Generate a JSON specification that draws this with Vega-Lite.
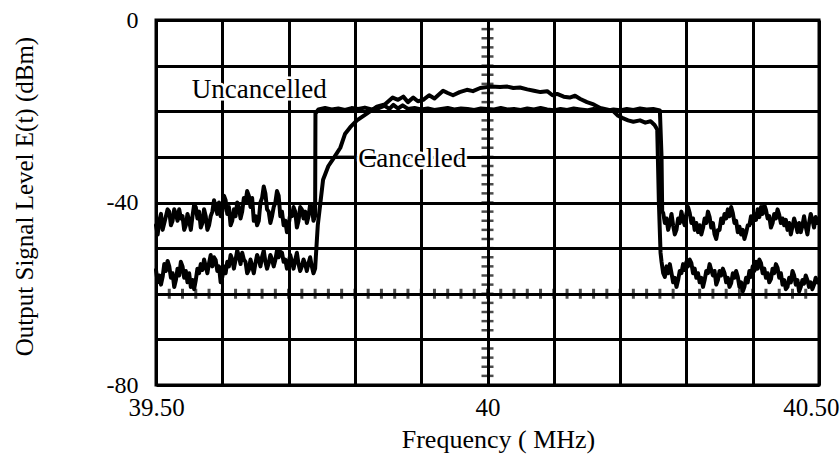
{
  "$schema": "https://vega.github.io/schema/vega-lite/v6.json",
  "width": 663,
  "height": 365,
  "autosize": {"type": "none"},
  "padding": {"left": 156, "top": 20, "right": 21, "bottom": 84},
  "background": "white",
  "config": {
    "font": "Liberation Serif",
    "view": {"stroke": "black", "strokeWidth": 3},
    "axis": {
      "domain": false,
      "ticks": false,
      "grid": true,
      "gridColor": "black",
      "gridOpacity": 1,
      "gridWidth": 3,
      "labelFont": "Liberation Serif",
      "labelColor": "black",
      "titleFont": "Liberation Serif",
      "titleColor": "black",
      "titleFontWeight": "normal"
    }
  },
  "datasets": {
    "traces": [
      {"series": "Uncancelled", "f": 39.5000, "dB": -45},
      {"series": "Uncancelled", "f": 39.5025, "dB": -47},
      {"series": "Uncancelled", "f": 39.5050, "dB": -44},
      {"series": "Uncancelled", "f": 39.5075, "dB": -42.5},
      {"series": "Uncancelled", "f": 39.5100, "dB": -46},
      {"series": "Uncancelled", "f": 39.5125, "dB": -44.5},
      {"series": "Uncancelled", "f": 39.5150, "dB": -43},
      {"series": "Uncancelled", "f": 39.5175, "dB": -41.5},
      {"series": "Uncancelled", "f": 39.5200, "dB": -42},
      {"series": "Uncancelled", "f": 39.5225, "dB": -45},
      {"series": "Uncancelled", "f": 39.5250, "dB": -44},
      {"series": "Uncancelled", "f": 39.5275, "dB": -41.5},
      {"series": "Uncancelled", "f": 39.5300, "dB": -42.5},
      {"series": "Uncancelled", "f": 39.5325, "dB": -44},
      {"series": "Uncancelled", "f": 39.5350, "dB": -41.5},
      {"series": "Uncancelled", "f": 39.5375, "dB": -43.5},
      {"series": "Uncancelled", "f": 39.5400, "dB": -43},
      {"series": "Uncancelled", "f": 39.5425, "dB": -46},
      {"series": "Uncancelled", "f": 39.5450, "dB": -45},
      {"series": "Uncancelled", "f": 39.5475, "dB": -42.5},
      {"series": "Uncancelled", "f": 39.5500, "dB": -44},
      {"series": "Uncancelled", "f": 39.5525, "dB": -46},
      {"series": "Uncancelled", "f": 39.5550, "dB": -43},
      {"series": "Uncancelled", "f": 39.5575, "dB": -40.5},
      {"series": "Uncancelled", "f": 39.5600, "dB": -41},
      {"series": "Uncancelled", "f": 39.5625, "dB": -43.5},
      {"series": "Uncancelled", "f": 39.5650, "dB": -42},
      {"series": "Uncancelled", "f": 39.5675, "dB": -45.5},
      {"series": "Uncancelled", "f": 39.5700, "dB": -44.5},
      {"series": "Uncancelled", "f": 39.5725, "dB": -41.5},
      {"series": "Uncancelled", "f": 39.5750, "dB": -43},
      {"series": "Uncancelled", "f": 39.5775, "dB": -46},
      {"series": "Uncancelled", "f": 39.5800, "dB": -45},
      {"series": "Uncancelled", "f": 39.5825, "dB": -43},
      {"series": "Uncancelled", "f": 39.5850, "dB": -42},
      {"series": "Uncancelled", "f": 39.5875, "dB": -39.5},
      {"series": "Uncancelled", "f": 39.5900, "dB": -41},
      {"series": "Uncancelled", "f": 39.5925, "dB": -42.5},
      {"series": "Uncancelled", "f": 39.5950, "dB": -40},
      {"series": "Uncancelled", "f": 39.5975, "dB": -43},
      {"series": "Uncancelled", "f": 39.6000, "dB": -42},
      {"series": "Uncancelled", "f": 39.6025, "dB": -38.5},
      {"series": "Uncancelled", "f": 39.6050, "dB": -39.5},
      {"series": "Uncancelled", "f": 39.6075, "dB": -42.5},
      {"series": "Uncancelled", "f": 39.6100, "dB": -41},
      {"series": "Uncancelled", "f": 39.6125, "dB": -45},
      {"series": "Uncancelled", "f": 39.6150, "dB": -44},
      {"series": "Uncancelled", "f": 39.6175, "dB": -41.5},
      {"series": "Uncancelled", "f": 39.6200, "dB": -43},
      {"series": "Uncancelled", "f": 39.6225, "dB": -40},
      {"series": "Uncancelled", "f": 39.6250, "dB": -41},
      {"series": "Uncancelled", "f": 39.6275, "dB": -43.5},
      {"series": "Uncancelled", "f": 39.6300, "dB": -42},
      {"series": "Uncancelled", "f": 39.6325, "dB": -39},
      {"series": "Uncancelled", "f": 39.6350, "dB": -40},
      {"series": "Uncancelled", "f": 39.6375, "dB": -37.5},
      {"series": "Uncancelled", "f": 39.6400, "dB": -38.5},
      {"series": "Uncancelled", "f": 39.6425, "dB": -41},
      {"series": "Uncancelled", "f": 39.6450, "dB": -39},
      {"series": "Uncancelled", "f": 39.6475, "dB": -44},
      {"series": "Uncancelled", "f": 39.6500, "dB": -43},
      {"series": "Uncancelled", "f": 39.6525, "dB": -45},
      {"series": "Uncancelled", "f": 39.6550, "dB": -44},
      {"series": "Uncancelled", "f": 39.6575, "dB": -40},
      {"series": "Uncancelled", "f": 39.6600, "dB": -39},
      {"series": "Uncancelled", "f": 39.6625, "dB": -36.5},
      {"series": "Uncancelled", "f": 39.6650, "dB": -38},
      {"series": "Uncancelled", "f": 39.6675, "dB": -41.5},
      {"series": "Uncancelled", "f": 39.6700, "dB": -42},
      {"series": "Uncancelled", "f": 39.6725, "dB": -44.5},
      {"series": "Uncancelled", "f": 39.6750, "dB": -43},
      {"series": "Uncancelled", "f": 39.6775, "dB": -41},
      {"series": "Uncancelled", "f": 39.6800, "dB": -40},
      {"series": "Uncancelled", "f": 39.6825, "dB": -37.5},
      {"series": "Uncancelled", "f": 39.6850, "dB": -38.5},
      {"series": "Uncancelled", "f": 39.6875, "dB": -43},
      {"series": "Uncancelled", "f": 39.6900, "dB": -42},
      {"series": "Uncancelled", "f": 39.6925, "dB": -45},
      {"series": "Uncancelled", "f": 39.6950, "dB": -44},
      {"series": "Uncancelled", "f": 39.6975, "dB": -46.5},
      {"series": "Uncancelled", "f": 39.7000, "dB": -45},
      {"series": "Uncancelled", "f": 39.7025, "dB": -42.5},
      {"series": "Uncancelled", "f": 39.7050, "dB": -43},
      {"series": "Uncancelled", "f": 39.7075, "dB": -41},
      {"series": "Uncancelled", "f": 39.7100, "dB": -42},
      {"series": "Uncancelled", "f": 39.7125, "dB": -45.5},
      {"series": "Uncancelled", "f": 39.7150, "dB": -44},
      {"series": "Uncancelled", "f": 39.7175, "dB": -41},
      {"series": "Uncancelled", "f": 39.7200, "dB": -41.5},
      {"series": "Uncancelled", "f": 39.7225, "dB": -43.5},
      {"series": "Uncancelled", "f": 39.7250, "dB": -42},
      {"series": "Uncancelled", "f": 39.7275, "dB": -44.5},
      {"series": "Uncancelled", "f": 39.7300, "dB": -43},
      {"series": "Uncancelled", "f": 39.7325, "dB": -40.5},
      {"series": "Uncancelled", "f": 39.7350, "dB": -41},
      {"series": "Uncancelled", "f": 39.7375, "dB": -44},
      {"series": "Uncancelled", "f": 39.7400, "dB": -43},
      {"series": "Uncancelled", "f": 39.7405, "dB": -20.5},
      {"series": "Uncancelled", "f": 39.745, "dB": -19.6},
      {"series": "Uncancelled", "f": 39.755, "dB": -19.3},
      {"series": "Uncancelled", "f": 39.765, "dB": -19.6},
      {"series": "Uncancelled", "f": 39.775, "dB": -19.4},
      {"series": "Uncancelled", "f": 39.785, "dB": -19.7},
      {"series": "Uncancelled", "f": 39.795, "dB": -19.3},
      {"series": "Uncancelled", "f": 39.805, "dB": -19.5},
      {"series": "Uncancelled", "f": 39.815, "dB": -19.2},
      {"series": "Uncancelled", "f": 39.825, "dB": -19.6},
      {"series": "Uncancelled", "f": 39.835, "dB": -19.4},
      {"series": "Uncancelled", "f": 39.845, "dB": -18.8},
      {"series": "Uncancelled", "f": 39.852, "dB": -19.5},
      {"series": "Uncancelled", "f": 39.858, "dB": -18.6},
      {"series": "Uncancelled", "f": 39.865, "dB": -19.4},
      {"series": "Uncancelled", "f": 39.872, "dB": -18.7},
      {"series": "Uncancelled", "f": 39.880, "dB": -19.5},
      {"series": "Uncancelled", "f": 39.890, "dB": -19.3},
      {"series": "Uncancelled", "f": 39.900, "dB": -19.6},
      {"series": "Uncancelled", "f": 39.910, "dB": -19.4},
      {"series": "Uncancelled", "f": 39.920, "dB": -19.7},
      {"series": "Uncancelled", "f": 39.930, "dB": -19.5},
      {"series": "Uncancelled", "f": 39.940, "dB": -19.3},
      {"series": "Uncancelled", "f": 39.950, "dB": -19.6},
      {"series": "Uncancelled", "f": 39.960, "dB": -19.4},
      {"series": "Uncancelled", "f": 39.970, "dB": -19.5},
      {"series": "Uncancelled", "f": 39.980, "dB": -19.7},
      {"series": "Uncancelled", "f": 39.990, "dB": -19.4},
      {"series": "Uncancelled", "f": 40.000, "dB": -19.5},
      {"series": "Uncancelled", "f": 40.010, "dB": -19.6},
      {"series": "Uncancelled", "f": 40.020, "dB": -19.3},
      {"series": "Uncancelled", "f": 40.030, "dB": -19.6},
      {"series": "Uncancelled", "f": 40.040, "dB": -19.5},
      {"series": "Uncancelled", "f": 40.050, "dB": -19.7},
      {"series": "Uncancelled", "f": 40.060, "dB": -19.4},
      {"series": "Uncancelled", "f": 40.070, "dB": -19.6},
      {"series": "Uncancelled", "f": 40.080, "dB": -19.3},
      {"series": "Uncancelled", "f": 40.090, "dB": -19.6},
      {"series": "Uncancelled", "f": 40.100, "dB": -19.8},
      {"series": "Uncancelled", "f": 40.110, "dB": -19.5},
      {"series": "Uncancelled", "f": 40.120, "dB": -19.7},
      {"series": "Uncancelled", "f": 40.130, "dB": -19.4},
      {"series": "Uncancelled", "f": 40.140, "dB": -19.6},
      {"series": "Uncancelled", "f": 40.150, "dB": -19.8},
      {"series": "Uncancelled", "f": 40.160, "dB": -19.5},
      {"series": "Uncancelled", "f": 40.170, "dB": -19.7},
      {"series": "Uncancelled", "f": 40.180, "dB": -19.9},
      {"series": "Uncancelled", "f": 40.190, "dB": -19.6},
      {"series": "Uncancelled", "f": 40.200, "dB": -19.8},
      {"series": "Uncancelled", "f": 40.210, "dB": -19.5},
      {"series": "Uncancelled", "f": 40.220, "dB": -19.7},
      {"series": "Uncancelled", "f": 40.230, "dB": -19.4},
      {"series": "Uncancelled", "f": 40.240, "dB": -19.6},
      {"series": "Uncancelled", "f": 40.250, "dB": -19.5},
      {"series": "Uncancelled", "f": 40.260, "dB": -19.8},
      {"series": "Uncancelled", "f": 40.2625, "dB": -30},
      {"series": "Uncancelled", "f": 40.2635, "dB": -42},
      {"series": "Uncancelled", "f": 40.2650, "dB": -42.3},
      {"series": "Uncancelled", "f": 40.2675, "dB": -44.5},
      {"series": "Uncancelled", "f": 40.2700, "dB": -43.5},
      {"series": "Uncancelled", "f": 40.2725, "dB": -46},
      {"series": "Uncancelled", "f": 40.2750, "dB": -44.5},
      {"series": "Uncancelled", "f": 40.2775, "dB": -42.5},
      {"series": "Uncancelled", "f": 40.2800, "dB": -45},
      {"series": "Uncancelled", "f": 40.2825, "dB": -47},
      {"series": "Uncancelled", "f": 40.2850, "dB": -46},
      {"series": "Uncancelled", "f": 40.2875, "dB": -43.5},
      {"series": "Uncancelled", "f": 40.2900, "dB": -44.5},
      {"series": "Uncancelled", "f": 40.2925, "dB": -42},
      {"series": "Uncancelled", "f": 40.2950, "dB": -43.8},
      {"series": "Uncancelled", "f": 40.2975, "dB": -45},
      {"series": "Uncancelled", "f": 40.3000, "dB": -42.5},
      {"series": "Uncancelled", "f": 40.3025, "dB": -41},
      {"series": "Uncancelled", "f": 40.3050, "dB": -42.3},
      {"series": "Uncancelled", "f": 40.3075, "dB": -44.5},
      {"series": "Uncancelled", "f": 40.3100, "dB": -43.5},
      {"series": "Uncancelled", "f": 40.3125, "dB": -46},
      {"series": "Uncancelled", "f": 40.3150, "dB": -44.5},
      {"series": "Uncancelled", "f": 40.3175, "dB": -46.5},
      {"series": "Uncancelled", "f": 40.3200, "dB": -45},
      {"series": "Uncancelled", "f": 40.3225, "dB": -47},
      {"series": "Uncancelled", "f": 40.3250, "dB": -45.6},
      {"series": "Uncancelled", "f": 40.3275, "dB": -43.5},
      {"series": "Uncancelled", "f": 40.3300, "dB": -44.5},
      {"series": "Uncancelled", "f": 40.3325, "dB": -42},
      {"series": "Uncancelled", "f": 40.3350, "dB": -43.2},
      {"series": "Uncancelled", "f": 40.3375, "dB": -45.5},
      {"series": "Uncancelled", "f": 40.3400, "dB": -44.5},
      {"series": "Uncancelled", "f": 40.3425, "dB": -47},
      {"series": "Uncancelled", "f": 40.3450, "dB": -48},
      {"series": "Uncancelled", "f": 40.3475, "dB": -46},
      {"series": "Uncancelled", "f": 40.3500, "dB": -46},
      {"series": "Uncancelled", "f": 40.3525, "dB": -43.5},
      {"series": "Uncancelled", "f": 40.3550, "dB": -44.5},
      {"series": "Uncancelled", "f": 40.3575, "dB": -42.5},
      {"series": "Uncancelled", "f": 40.3600, "dB": -43.5},
      {"series": "Uncancelled", "f": 40.3625, "dB": -41.5},
      {"series": "Uncancelled", "f": 40.3650, "dB": -43},
      {"series": "Uncancelled", "f": 40.3675, "dB": -41},
      {"series": "Uncancelled", "f": 40.3700, "dB": -42.3},
      {"series": "Uncancelled", "f": 40.3725, "dB": -44.5},
      {"series": "Uncancelled", "f": 40.3750, "dB": -44},
      {"series": "Uncancelled", "f": 40.3775, "dB": -46.5},
      {"series": "Uncancelled", "f": 40.3800, "dB": -45.3},
      {"series": "Uncancelled", "f": 40.3825, "dB": -47},
      {"series": "Uncancelled", "f": 40.3850, "dB": -46},
      {"series": "Uncancelled", "f": 40.3875, "dB": -48},
      {"series": "Uncancelled", "f": 40.3900, "dB": -46.7},
      {"series": "Uncancelled", "f": 40.3925, "dB": -45},
      {"series": "Uncancelled", "f": 40.3950, "dB": -45},
      {"series": "Uncancelled", "f": 40.3975, "dB": -43},
      {"series": "Uncancelled", "f": 40.4000, "dB": -44.5},
      {"series": "Uncancelled", "f": 40.4025, "dB": -42.5},
      {"series": "Uncancelled", "f": 40.4050, "dB": -43.8},
      {"series": "Uncancelled", "f": 40.4075, "dB": -41.5},
      {"series": "Uncancelled", "f": 40.4100, "dB": -43.2},
      {"series": "Uncancelled", "f": 40.4125, "dB": -41},
      {"series": "Uncancelled", "f": 40.4150, "dB": -42.5},
      {"series": "Uncancelled", "f": 40.4175, "dB": -40.5},
      {"series": "Uncancelled", "f": 40.4200, "dB": -41.6},
      {"series": "Uncancelled", "f": 40.4225, "dB": -43.5},
      {"series": "Uncancelled", "f": 40.4250, "dB": -43},
      {"series": "Uncancelled", "f": 40.4275, "dB": -45.5},
      {"series": "Uncancelled", "f": 40.4300, "dB": -44.5},
      {"series": "Uncancelled", "f": 40.4325, "dB": -42.5},
      {"series": "Uncancelled", "f": 40.4350, "dB": -43.5},
      {"series": "Uncancelled", "f": 40.4375, "dB": -41.5},
      {"series": "Uncancelled", "f": 40.4400, "dB": -42.7},
      {"series": "Uncancelled", "f": 40.4425, "dB": -44.5},
      {"series": "Uncancelled", "f": 40.4450, "dB": -43.5},
      {"series": "Uncancelled", "f": 40.4475, "dB": -45},
      {"series": "Uncancelled", "f": 40.4500, "dB": -43.8},
      {"series": "Uncancelled", "f": 40.4525, "dB": -46},
      {"series": "Uncancelled", "f": 40.4550, "dB": -44.5},
      {"series": "Uncancelled", "f": 40.4575, "dB": -47},
      {"series": "Uncancelled", "f": 40.4600, "dB": -45.3},
      {"series": "Uncancelled", "f": 40.4625, "dB": -43.5},
      {"series": "Uncancelled", "f": 40.4650, "dB": -44.8},
      {"series": "Uncancelled", "f": 40.4675, "dB": -46.5},
      {"series": "Uncancelled", "f": 40.4700, "dB": -44.5},
      {"series": "Uncancelled", "f": 40.4725, "dB": -46.5},
      {"series": "Uncancelled", "f": 40.4750, "dB": -45},
      {"series": "Uncancelled", "f": 40.4775, "dB": -43},
      {"series": "Uncancelled", "f": 40.4800, "dB": -45.3},
      {"series": "Uncancelled", "f": 40.4825, "dB": -47},
      {"series": "Uncancelled", "f": 40.4850, "dB": -44.5},
      {"series": "Uncancelled", "f": 40.4875, "dB": -42.5},
      {"series": "Uncancelled", "f": 40.4900, "dB": -43.8},
      {"series": "Uncancelled", "f": 40.4925, "dB": -45.5},
      {"series": "Uncancelled", "f": 40.4950, "dB": -43.2},
      {"series": "Uncancelled", "f": 40.4975, "dB": -44.5},
      {"series": "Uncancelled", "f": 40.5000, "dB": -43.5},

      {"series": "Cancelled", "f": 39.5000, "dB": -54.8},
      {"series": "Cancelled", "f": 39.5025, "dB": -57.5},
      {"series": "Cancelled", "f": 39.5050, "dB": -56},
      {"series": "Cancelled", "f": 39.5075, "dB": -58},
      {"series": "Cancelled", "f": 39.5100, "dB": -56.3},
      {"series": "Cancelled", "f": 39.5125, "dB": -53.5},
      {"series": "Cancelled", "f": 39.5150, "dB": -55},
      {"series": "Cancelled", "f": 39.5175, "dB": -52.8},
      {"series": "Cancelled", "f": 39.5200, "dB": -54},
      {"series": "Cancelled", "f": 39.5225, "dB": -56.5},
      {"series": "Cancelled", "f": 39.5250, "dB": -55.5},
      {"series": "Cancelled", "f": 39.5275, "dB": -58.5},
      {"series": "Cancelled", "f": 39.5300, "dB": -57},
      {"series": "Cancelled", "f": 39.5325, "dB": -54.5},
      {"series": "Cancelled", "f": 39.5350, "dB": -56},
      {"series": "Cancelled", "f": 39.5375, "dB": -53},
      {"series": "Cancelled", "f": 39.5400, "dB": -54},
      {"series": "Cancelled", "f": 39.5425, "dB": -56.5},
      {"series": "Cancelled", "f": 39.5450, "dB": -55},
      {"series": "Cancelled", "f": 39.5475, "dB": -57.5},
      {"series": "Cancelled", "f": 39.5500, "dB": -55.5},
      {"series": "Cancelled", "f": 39.5525, "dB": -58.5},
      {"series": "Cancelled", "f": 39.5550, "dB": -57},
      {"series": "Cancelled", "f": 39.5575, "dB": -59},
      {"series": "Cancelled", "f": 39.5600, "dB": -57},
      {"series": "Cancelled", "f": 39.5625, "dB": -54.5},
      {"series": "Cancelled", "f": 39.5650, "dB": -55.5},
      {"series": "Cancelled", "f": 39.5675, "dB": -53.5},
      {"series": "Cancelled", "f": 39.5700, "dB": -54.8},
      {"series": "Cancelled", "f": 39.5725, "dB": -52.5},
      {"series": "Cancelled", "f": 39.5750, "dB": -54},
      {"series": "Cancelled", "f": 39.5775, "dB": -55.5},
      {"series": "Cancelled", "f": 39.5800, "dB": -53.3},
      {"series": "Cancelled", "f": 39.5825, "dB": -51.5},
      {"series": "Cancelled", "f": 39.5850, "dB": -54},
      {"series": "Cancelled", "f": 39.5875, "dB": -52},
      {"series": "Cancelled", "f": 39.5900, "dB": -52.6},
      {"series": "Cancelled", "f": 39.5925, "dB": -55},
      {"series": "Cancelled", "f": 39.5950, "dB": -54},
      {"series": "Cancelled", "f": 39.5975, "dB": -57.5},
      {"series": "Cancelled", "f": 39.6000, "dB": -56.3},
      {"series": "Cancelled", "f": 39.6025, "dB": -54},
      {"series": "Cancelled", "f": 39.6050, "dB": -55.5},
      {"series": "Cancelled", "f": 39.6075, "dB": -53},
      {"series": "Cancelled", "f": 39.6100, "dB": -54},
      {"series": "Cancelled", "f": 39.6125, "dB": -51.5},
      {"series": "Cancelled", "f": 39.6150, "dB": -52.5},
      {"series": "Cancelled", "f": 39.6175, "dB": -54.5},
      {"series": "Cancelled", "f": 39.6200, "dB": -52.6},
      {"series": "Cancelled", "f": 39.6225, "dB": -50.5},
      {"series": "Cancelled", "f": 39.6250, "dB": -51.8},
      {"series": "Cancelled", "f": 39.6275, "dB": -53.5},
      {"series": "Cancelled", "f": 39.6300, "dB": -51},
      {"series": "Cancelled", "f": 39.6325, "dB": -52.5},
      {"series": "Cancelled", "f": 39.6350, "dB": -53},
      {"series": "Cancelled", "f": 39.6375, "dB": -55.5},
      {"series": "Cancelled", "f": 39.6400, "dB": -54.8},
      {"series": "Cancelled", "f": 39.6425, "dB": -52.5},
      {"series": "Cancelled", "f": 39.6450, "dB": -54},
      {"series": "Cancelled", "f": 39.6475, "dB": -55.5},
      {"series": "Cancelled", "f": 39.6500, "dB": -53.3},
      {"series": "Cancelled", "f": 39.6525, "dB": -51.5},
      {"series": "Cancelled", "f": 39.6550, "dB": -52.5},
      {"series": "Cancelled", "f": 39.6575, "dB": -54},
      {"series": "Cancelled", "f": 39.6600, "dB": -51.9},
      {"series": "Cancelled", "f": 39.6625, "dB": -50.5},
      {"series": "Cancelled", "f": 39.6650, "dB": -53},
      {"series": "Cancelled", "f": 39.6675, "dB": -54.5},
      {"series": "Cancelled", "f": 39.6700, "dB": -53.3},
      {"series": "Cancelled", "f": 39.6725, "dB": -51.5},
      {"series": "Cancelled", "f": 39.6750, "dB": -52.5},
      {"series": "Cancelled", "f": 39.6775, "dB": -54},
      {"series": "Cancelled", "f": 39.6800, "dB": -52.6},
      {"series": "Cancelled", "f": 39.6825, "dB": -50.5},
      {"series": "Cancelled", "f": 39.6850, "dB": -52},
      {"series": "Cancelled", "f": 39.6875, "dB": -50.8},
      {"series": "Cancelled", "f": 39.6900, "dB": -51},
      {"series": "Cancelled", "f": 39.6925, "dB": -53},
      {"series": "Cancelled", "f": 39.6950, "dB": -52.5},
      {"series": "Cancelled", "f": 39.6975, "dB": -54.5},
      {"series": "Cancelled", "f": 39.7000, "dB": -53.3},
      {"series": "Cancelled", "f": 39.7025, "dB": -51.5},
      {"series": "Cancelled", "f": 39.7050, "dB": -53},
      {"series": "Cancelled", "f": 39.7075, "dB": -54.5},
      {"series": "Cancelled", "f": 39.7100, "dB": -52.6},
      {"series": "Cancelled", "f": 39.7125, "dB": -51},
      {"series": "Cancelled", "f": 39.7150, "dB": -53.5},
      {"series": "Cancelled", "f": 39.7175, "dB": -55},
      {"series": "Cancelled", "f": 39.7200, "dB": -54},
      {"series": "Cancelled", "f": 39.7225, "dB": -52.5},
      {"series": "Cancelled", "f": 39.7250, "dB": -53.5},
      {"series": "Cancelled", "f": 39.7275, "dB": -55},
      {"series": "Cancelled", "f": 39.7300, "dB": -53.3},
      {"series": "Cancelled", "f": 39.7325, "dB": -52},
      {"series": "Cancelled", "f": 39.7350, "dB": -54},
      {"series": "Cancelled", "f": 39.7375, "dB": -55.5},
      {"series": "Cancelled", "f": 39.7400, "dB": -54.5},
      {"series": "Cancelled", "f": 39.744, "dB": -45},
      {"series": "Cancelled", "f": 39.748, "dB": -40},
      {"series": "Cancelled", "f": 39.752, "dB": -35},
      {"series": "Cancelled", "f": 39.760, "dB": -32},
      {"series": "Cancelled", "f": 39.767, "dB": -30.5},
      {"series": "Cancelled", "f": 39.778, "dB": -28},
      {"series": "Cancelled", "f": 39.785, "dB": -25},
      {"series": "Cancelled", "f": 39.793, "dB": -23.5},
      {"series": "Cancelled", "f": 39.803, "dB": -22},
      {"series": "Cancelled", "f": 39.818, "dB": -20.5},
      {"series": "Cancelled", "f": 39.833, "dB": -19},
      {"series": "Cancelled", "f": 39.845, "dB": -18.5},
      {"series": "Cancelled", "f": 39.857, "dB": -17},
      {"series": "Cancelled", "f": 39.865, "dB": -17.5},
      {"series": "Cancelled", "f": 39.873, "dB": -16.8},
      {"series": "Cancelled", "f": 39.880, "dB": -18},
      {"series": "Cancelled", "f": 39.888, "dB": -17},
      {"series": "Cancelled", "f": 39.895, "dB": -17.8},
      {"series": "Cancelled", "f": 39.903, "dB": -17.5},
      {"series": "Cancelled", "f": 39.912, "dB": -16.5},
      {"series": "Cancelled", "f": 39.920, "dB": -17.2},
      {"series": "Cancelled", "f": 39.933, "dB": -15.5},
      {"series": "Cancelled", "f": 39.940, "dB": -16},
      {"series": "Cancelled", "f": 39.948, "dB": -16.5},
      {"series": "Cancelled", "f": 39.958, "dB": -15.8},
      {"series": "Cancelled", "f": 39.969, "dB": -15.3},
      {"series": "Cancelled", "f": 39.978, "dB": -15.6},
      {"series": "Cancelled", "f": 39.989, "dB": -14.9},
      {"series": "Cancelled", "f": 40.004, "dB": -14.6},
      {"series": "Cancelled", "f": 40.019, "dB": -14.7},
      {"series": "Cancelled", "f": 40.030, "dB": -14.6},
      {"series": "Cancelled", "f": 40.039, "dB": -14.9},
      {"series": "Cancelled", "f": 40.049, "dB": -14.8},
      {"series": "Cancelled", "f": 40.060, "dB": -15.2},
      {"series": "Cancelled", "f": 40.070, "dB": -15.5},
      {"series": "Cancelled", "f": 40.080, "dB": -15.8},
      {"series": "Cancelled", "f": 40.090, "dB": -15.6},
      {"series": "Cancelled", "f": 40.098, "dB": -16.5},
      {"series": "Cancelled", "f": 40.105, "dB": -16.2},
      {"series": "Cancelled", "f": 40.115, "dB": -16.8},
      {"series": "Cancelled", "f": 40.124, "dB": -17},
      {"series": "Cancelled", "f": 40.132, "dB": -16.6},
      {"series": "Cancelled", "f": 40.140, "dB": -17.3},
      {"series": "Cancelled", "f": 40.150, "dB": -18},
      {"series": "Cancelled", "f": 40.160, "dB": -18.5},
      {"series": "Cancelled", "f": 40.170, "dB": -19.3},
      {"series": "Cancelled", "f": 40.180, "dB": -19.6},
      {"series": "Cancelled", "f": 40.190, "dB": -20},
      {"series": "Cancelled", "f": 40.197, "dB": -21},
      {"series": "Cancelled", "f": 40.204, "dB": -21.5},
      {"series": "Cancelled", "f": 40.212, "dB": -22},
      {"series": "Cancelled", "f": 40.220, "dB": -22.3},
      {"series": "Cancelled", "f": 40.230, "dB": -22},
      {"series": "Cancelled", "f": 40.238, "dB": -22.5},
      {"series": "Cancelled", "f": 40.246, "dB": -22.2},
      {"series": "Cancelled", "f": 40.252, "dB": -23},
      {"series": "Cancelled", "f": 40.256, "dB": -24},
      {"series": "Cancelled", "f": 40.2585, "dB": -40},
      {"series": "Cancelled", "f": 40.2610, "dB": -51},
      {"series": "Cancelled", "f": 40.2625, "dB": -53},
      {"series": "Cancelled", "f": 40.2650, "dB": -55.5},
      {"series": "Cancelled", "f": 40.2675, "dB": -56.3},
      {"series": "Cancelled", "f": 40.2700, "dB": -54},
      {"series": "Cancelled", "f": 40.2725, "dB": -55.5},
      {"series": "Cancelled", "f": 40.2750, "dB": -53.5},
      {"series": "Cancelled", "f": 40.2775, "dB": -55.5},
      {"series": "Cancelled", "f": 40.2800, "dB": -57.5},
      {"series": "Cancelled", "f": 40.2825, "dB": -56.5},
      {"series": "Cancelled", "f": 40.2850, "dB": -58.5},
      {"series": "Cancelled", "f": 40.2875, "dB": -57},
      {"series": "Cancelled", "f": 40.2900, "dB": -55},
      {"series": "Cancelled", "f": 40.2925, "dB": -55.5},
      {"series": "Cancelled", "f": 40.2950, "dB": -53.5},
      {"series": "Cancelled", "f": 40.2975, "dB": -54.8},
      {"series": "Cancelled", "f": 40.3000, "dB": -53},
      {"series": "Cancelled", "f": 40.3025, "dB": -54},
      {"series": "Cancelled", "f": 40.3050, "dB": -52.5},
      {"series": "Cancelled", "f": 40.3075, "dB": -53.3},
      {"series": "Cancelled", "f": 40.3100, "dB": -55.5},
      {"series": "Cancelled", "f": 40.3125, "dB": -54.5},
      {"series": "Cancelled", "f": 40.3150, "dB": -56.5},
      {"series": "Cancelled", "f": 40.3175, "dB": -55.5},
      {"series": "Cancelled", "f": 40.3200, "dB": -57.5},
      {"series": "Cancelled", "f": 40.3225, "dB": -56.5},
      {"series": "Cancelled", "f": 40.3250, "dB": -58.5},
      {"series": "Cancelled", "f": 40.3275, "dB": -57},
      {"series": "Cancelled", "f": 40.3300, "dB": -55},
      {"series": "Cancelled", "f": 40.3325, "dB": -55.5},
      {"series": "Cancelled", "f": 40.3350, "dB": -53.5},
      {"series": "Cancelled", "f": 40.3375, "dB": -54.8},
      {"series": "Cancelled", "f": 40.3400, "dB": -56},
      {"series": "Cancelled", "f": 40.3425, "dB": -55},
      {"series": "Cancelled", "f": 40.3450, "dB": -58},
      {"series": "Cancelled", "f": 40.3475, "dB": -57},
      {"series": "Cancelled", "f": 40.3500, "dB": -55},
      {"series": "Cancelled", "f": 40.3525, "dB": -56},
      {"series": "Cancelled", "f": 40.3550, "dB": -54.5},
      {"series": "Cancelled", "f": 40.3575, "dB": -55.5},
      {"series": "Cancelled", "f": 40.3600, "dB": -57.5},
      {"series": "Cancelled", "f": 40.3625, "dB": -56.5},
      {"series": "Cancelled", "f": 40.3650, "dB": -58.5},
      {"series": "Cancelled", "f": 40.3675, "dB": -57.7},
      {"series": "Cancelled", "f": 40.3700, "dB": -55.5},
      {"series": "Cancelled", "f": 40.3725, "dB": -56.5},
      {"series": "Cancelled", "f": 40.3750, "dB": -55},
      {"series": "Cancelled", "f": 40.3775, "dB": -56.3},
      {"series": "Cancelled", "f": 40.3800, "dB": -58.5},
      {"series": "Cancelled", "f": 40.3825, "dB": -57.5},
      {"series": "Cancelled", "f": 40.3850, "dB": -59.5},
      {"series": "Cancelled", "f": 40.3875, "dB": -58.5},
      {"series": "Cancelled", "f": 40.3900, "dB": -56.5},
      {"series": "Cancelled", "f": 40.3925, "dB": -57.5},
      {"series": "Cancelled", "f": 40.3950, "dB": -55},
      {"series": "Cancelled", "f": 40.3975, "dB": -56.3},
      {"series": "Cancelled", "f": 40.4000, "dB": -54},
      {"series": "Cancelled", "f": 40.4025, "dB": -55},
      {"series": "Cancelled", "f": 40.4050, "dB": -53},
      {"series": "Cancelled", "f": 40.4075, "dB": -54.5},
      {"series": "Cancelled", "f": 40.4100, "dB": -52.5},
      {"series": "Cancelled", "f": 40.4125, "dB": -53.3},
      {"series": "Cancelled", "f": 40.4150, "dB": -55.5},
      {"series": "Cancelled", "f": 40.4175, "dB": -54.5},
      {"series": "Cancelled", "f": 40.4200, "dB": -56.5},
      {"series": "Cancelled", "f": 40.4225, "dB": -55.5},
      {"series": "Cancelled", "f": 40.4250, "dB": -57.5},
      {"series": "Cancelled", "f": 40.4275, "dB": -56.8},
      {"series": "Cancelled", "f": 40.4300, "dB": -54.5},
      {"series": "Cancelled", "f": 40.4325, "dB": -55.5},
      {"series": "Cancelled", "f": 40.4350, "dB": -53.5},
      {"series": "Cancelled", "f": 40.4375, "dB": -54.3},
      {"series": "Cancelled", "f": 40.4400, "dB": -56.5},
      {"series": "Cancelled", "f": 40.4425, "dB": -55.5},
      {"series": "Cancelled", "f": 40.4450, "dB": -58},
      {"series": "Cancelled", "f": 40.4475, "dB": -57},
      {"series": "Cancelled", "f": 40.4500, "dB": -59},
      {"series": "Cancelled", "f": 40.4525, "dB": -58.5},
      {"series": "Cancelled", "f": 40.4550, "dB": -56.5},
      {"series": "Cancelled", "f": 40.4575, "dB": -57.5},
      {"series": "Cancelled", "f": 40.4600, "dB": -55},
      {"series": "Cancelled", "f": 40.4625, "dB": -56},
      {"series": "Cancelled", "f": 40.4650, "dB": -58},
      {"series": "Cancelled", "f": 40.4675, "dB": -57},
      {"series": "Cancelled", "f": 40.4700, "dB": -59.5},
      {"series": "Cancelled", "f": 40.4725, "dB": -58.5},
      {"series": "Cancelled", "f": 40.4750, "dB": -57},
      {"series": "Cancelled", "f": 40.4775, "dB": -57.8},
      {"series": "Cancelled", "f": 40.4800, "dB": -56},
      {"series": "Cancelled", "f": 40.4825, "dB": -57},
      {"series": "Cancelled", "f": 40.4850, "dB": -58.5},
      {"series": "Cancelled", "f": 40.4875, "dB": -57.5},
      {"series": "Cancelled", "f": 40.4900, "dB": -59},
      {"series": "Cancelled", "f": 40.4925, "dB": -58},
      {"series": "Cancelled", "f": 40.4950, "dB": -56.5},
      {"series": "Cancelled", "f": 40.4975, "dB": -57.5},
      {"series": "Cancelled", "f": 40.5000, "dB": -57}
    ],
    "vticks": [
      {"dB": -78}, {"dB": -76}, {"dB": -74}, {"dB": -72}, {"dB": -70}, {"dB": -68}, {"dB": -66}, {"dB": -64}, {"dB": -62}, {"dB": -60},
      {"dB": -58}, {"dB": -56}, {"dB": -54}, {"dB": -52}, {"dB": -50}, {"dB": -48}, {"dB": -46}, {"dB": -44}, {"dB": -42}, {"dB": -40},
      {"dB": -38}, {"dB": -36}, {"dB": -34}, {"dB": -32}, {"dB": -30}, {"dB": -28}, {"dB": -26}, {"dB": -24}, {"dB": -22}, {"dB": -20},
      {"dB": -18}, {"dB": -16}, {"dB": -14}, {"dB": -12}, {"dB": -10}, {"dB": -8}, {"dB": -6}, {"dB": -4}, {"dB": -2}
    ],
    "hticks": [
      {"f": 39.52}, {"f": 39.54}, {"f": 39.56}, {"f": 39.58}, {"f": 39.60}, {"f": 39.62}, {"f": 39.64}, {"f": 39.66}, {"f": 39.68}, {"f": 39.70},
      {"f": 39.72}, {"f": 39.74}, {"f": 39.76}, {"f": 39.78}, {"f": 39.80}, {"f": 39.82}, {"f": 39.84}, {"f": 39.86}, {"f": 39.88}, {"f": 39.90},
      {"f": 39.92}, {"f": 39.94}, {"f": 39.96}, {"f": 39.98}, {"f": 40.00}, {"f": 40.02}, {"f": 40.04}, {"f": 40.06}, {"f": 40.08}, {"f": 40.10},
      {"f": 40.12}, {"f": 40.14}, {"f": 40.16}, {"f": 40.18}, {"f": 40.20}, {"f": 40.22}, {"f": 40.24}, {"f": 40.26}, {"f": 40.28}, {"f": 40.30},
      {"f": 40.32}, {"f": 40.34}, {"f": 40.36}, {"f": 40.38}, {"f": 40.40}, {"f": 40.42}, {"f": 40.44}, {"f": 40.46}, {"f": 40.48}
    ],
    "notes": [
      {"label": "Uncancelled", "f": 39.554, "dB": -17.1},
      {"label": "Cancelled", "f": 39.805, "dB": -32.2}
    ],
    "leader": [
      {"f": 39.774, "f2": 39.800, "dB": -30.0}
    ]
  },
  "layer": [
    {
      "data": {"name": "traces"},
      "mark": {"type": "line", "color": "black", "strokeWidth": 4, "strokeJoin": "round", "strokeCap": "round"},
      "encoding": {
        "x": {
          "field": "f",
          "type": "quantitative",
          "scale": {"domain": [39.5, 40.5], "nice": false, "zero": false},
          "axis": {
            "title": "Frequency  ( MHz)",
            "values": [39.5, 39.6, 39.7, 39.8, 39.9, 40, 40.1, 40.2, 40.3, 40.4, 40.5],
            "labelExpr": "datum.value == 39.5 ? '39.50' : datum.value == 40 ? '40' : datum.value == 40.5 ? '40.50' : ''",
            "labelFontSize": 25,
            "labelPadding": 10,
            "labelAlign": {"condition": {"test": "datum.value > 40.45", "value": "right"}, "value": "center"},
            "labelOffset": {"condition": {"test": "datum.value > 40.45", "value": 20}, "value": 0},
            "labelOverlap": false,
            "labelBound": false,
            "titleFontSize": 26,
            "titleY": 62,
            "titleBaseline": "alphabetic",
            "titleX": 342
          }
        },
        "y": {
          "field": "dB",
          "type": "quantitative",
          "scale": {"domain": [-80, 0], "nice": false, "zero": false},
          "axis": {
            "title": "Output Signal Level E(t)  (dBm)",
            "values": [-80, -70, -60, -50, -40, -30, -20, -10, 0],
            "labelExpr": "datum.value == 0 ? '0' : datum.value == -40 ? '-40' : datum.value == -80 ? '-80' : ''",
            "labelFontSize": 24,
            "labelPadding": 18,
            "labelOverlap": false,
            "labelBound": false,
            "labelFlush": false,
            "titleFontSize": 25,
            "titleX": -124,
            "titleY": 176,
            "titleAngle": -90,
            "titleAlign": "center",
            "titleBaseline": "alphabetic"
          }
        },
        "detail": {"field": "series", "type": "nominal"}
      }
    },
    {
      "data": {"name": "vticks"},
      "mark": {"type": "tick", "orient": "horizontal", "color": "black", "size": 12, "thickness": 2.5},
      "encoding": {
        "x": {"datum": 40, "type": "quantitative"},
        "y": {"field": "dB", "type": "quantitative"}
      }
    },
    {
      "data": {"name": "hticks"},
      "mark": {"type": "tick", "orient": "vertical", "color": "black", "size": 10, "thickness": 3},
      "encoding": {
        "x": {"field": "f", "type": "quantitative"},
        "y": {"datum": -60, "type": "quantitative"}
      }
    },
    {
      "data": {"name": "notes"},
      "mark": {"type": "text", "align": "left", "baseline": "alphabetic", "fontSize": 27, "font": "Liberation Serif", "fill": "white", "stroke": "white", "strokeWidth": 5, "strokeJoin": "round"},
      "encoding": {
        "x": {"field": "f", "type": "quantitative"},
        "y": {"field": "dB", "type": "quantitative"},
        "text": {"field": "label"}
      }
    },
    {
      "data": {"name": "leader"},
      "mark": {"type": "rule", "color": "black", "strokeWidth": 2.5},
      "encoding": {
        "x": {"field": "f", "type": "quantitative"},
        "x2": {"field": "f2"},
        "y": {"field": "dB", "type": "quantitative"}
      }
    },
    {
      "data": {"name": "notes"},
      "mark": {"type": "text", "align": "left", "baseline": "alphabetic", "fontSize": 27, "font": "Liberation Serif", "color": "black"},
      "encoding": {
        "x": {"field": "f", "type": "quantitative"},
        "y": {"field": "dB", "type": "quantitative"},
        "text": {"field": "label"}
      }
    }
  ]
}
